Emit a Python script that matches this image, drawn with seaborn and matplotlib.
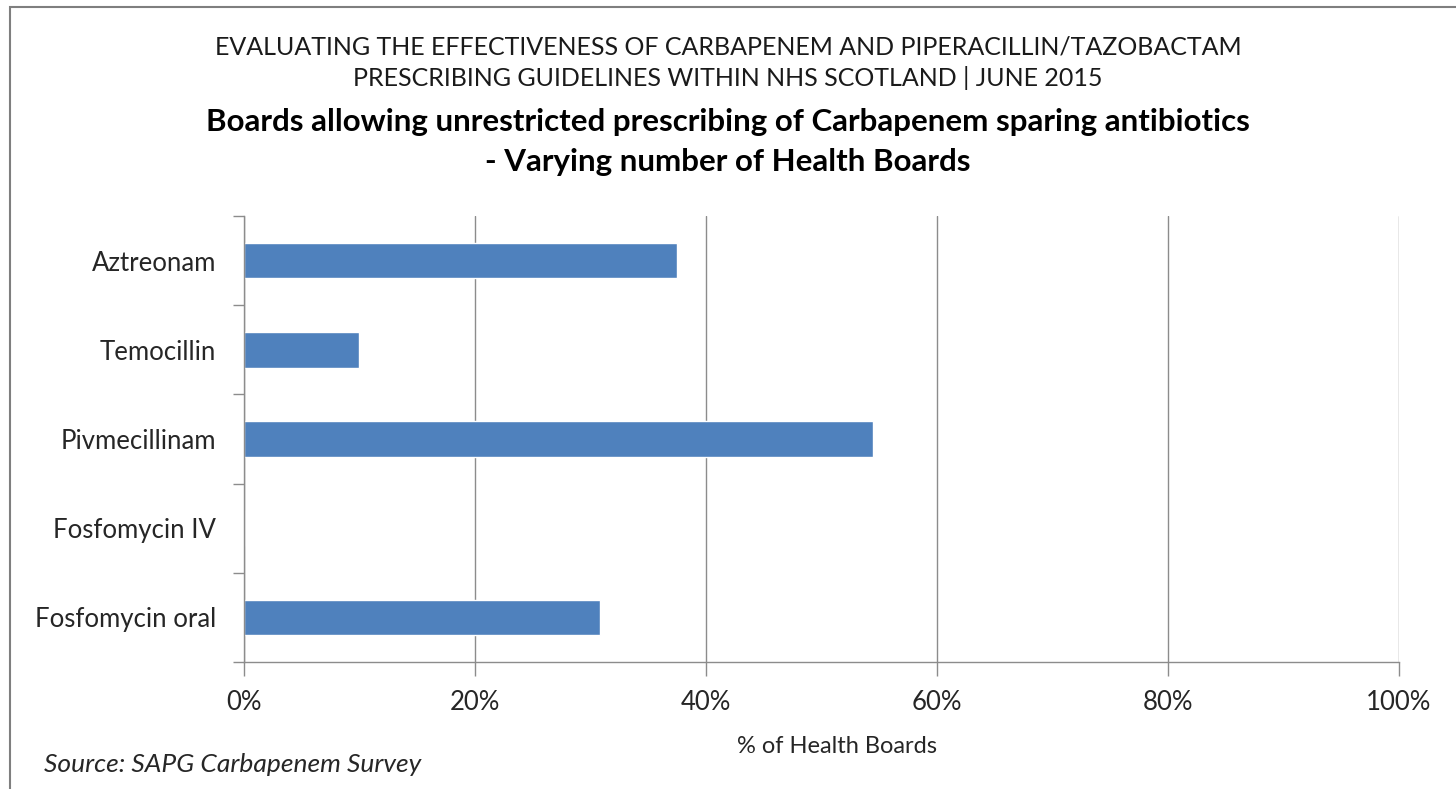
import matplotlib
matplotlib.use("Agg")
import matplotlib.pyplot as plt
import matplotlib.patches as mpatches
from matplotlib.ticker import FuncFormatter, MultipleLocator
import seaborn as sns
import pandas as pd

# Share of health boards allowing unrestricted prescribing, per antibiotic
antibiotics = ["Aztreonam", "Temocillin", "Pivmecillinam", "Fosfomycin IV", "Fosfomycin oral"]
pct_boards = [37.5, 10.0, 54.5, 0.0, 30.8]

title_lines = [
    "EVALUATING THE EFFECTIVENESS OF CARBAPENEM AND PIPERACILLIN/TAZOBACTAM",
    "PRESCRIBING GUIDELINES WITHIN NHS SCOTLAND | JUNE 2015",
]
subtitle_lines = [
    "Boards allowing unrestricted prescribing of Carbapenem sparing antibiotics",
    "- Varying number of Health Boards",
]
x_label = "% of Health Boards"
source_note = "Source: SAPG Carbapenem Survey"

df = pd.DataFrame({"antibiotic": antibiotics, "pct": pct_boards})

sns.set_theme(style="white")
plt.rcParams["font.family"] = ["Lato", "DejaVu Sans"]

fig = plt.figure(figsize=(14.56, 7.89), dpi=100)
W, H = 1456, 789
ax = fig.add_axes([244 / W, 1 - 662 / H, (1399 - 244) / W, (662 - 216) / H])

sns.barplot(data=df, x="pct", y="antibiotic", color="#4f81bd", width=0.4,
            ax=ax, orient="h", saturation=1)

ax.set_xlim(0, 100)
ax.set_ylim(4.5, -0.5)
ax.xaxis.set_major_locator(MultipleLocator(20))
ax.xaxis.set_major_formatter(FuncFormatter(lambda v, _: f"{v:.0f}%"))
ax.grid(axis="x", color="#8c8c8c", linewidth=1.0)
ax.set_axisbelow(True)

for s in ["top", "right"]:
    ax.spines[s].set_visible(False)
for s in ["left", "bottom"]:
    ax.spines[s].set_color("#8c8c8c")
    ax.spines[s].set_linewidth(1.0)

# Category ticks sit at band boundaries
ax.set_yticks([i - 0.5 for i in range(len(antibiotics) + 1)], minor=False)
ax.set_yticklabels([])
ax.set_yticks(range(len(antibiotics)), minor=True)
ax.set_yticklabels(antibiotics, minor=True)
ax.tick_params(axis="y", which="major", direction="out", length=8, width=1,
               color="#8c8c8c", left=True)
ax.tick_params(axis="y", which="minor", length=0, pad=20, labelsize=18.5,
               labelcolor="#262626")
ax.tick_params(axis="x", direction="out", length=10, width=1, color="#8c8c8c",
               bottom=True, labelsize=18.5, labelcolor="#262626", pad=10)

ax.set_ylabel("")
ax.set_xlabel(x_label, fontsize=17, color="#262626")
ax.xaxis.set_label_coords(0.513, -0.165)

fig.text(0.5, 1 - 47 / H, title_lines[0], ha="center", va="center", fontsize=18, color="#1a1a1a")
fig.text(0.5, 1 - 78 / H, title_lines[1], ha="center", va="center", fontsize=18, color="#1a1a1a")
fig.text(0.5, 1 - 122 / H, subtitle_lines[0], ha="center", va="center", fontsize=22.5,
         fontweight="bold", color="black")
fig.text(0.5, 1 - 162 / H, subtitle_lines[1], ha="center", va="center", fontsize=22.5,
         fontweight="bold", color="black")
fig.text(44 / W, 1 - 765 / H, source_note, ha="left", va="center", fontsize=19,
         style="italic", color="#262626")

# Outer chart frame
fig.patches.append(mpatches.Rectangle((10 / W, -0.05), 1.1, 1 - 7 / H + 0.05,
                                      transform=fig.transFigure, fill=False,
                                      edgecolor="#7f7f7f", linewidth=1.5))

fig.savefig("out.png", dpi=100)
